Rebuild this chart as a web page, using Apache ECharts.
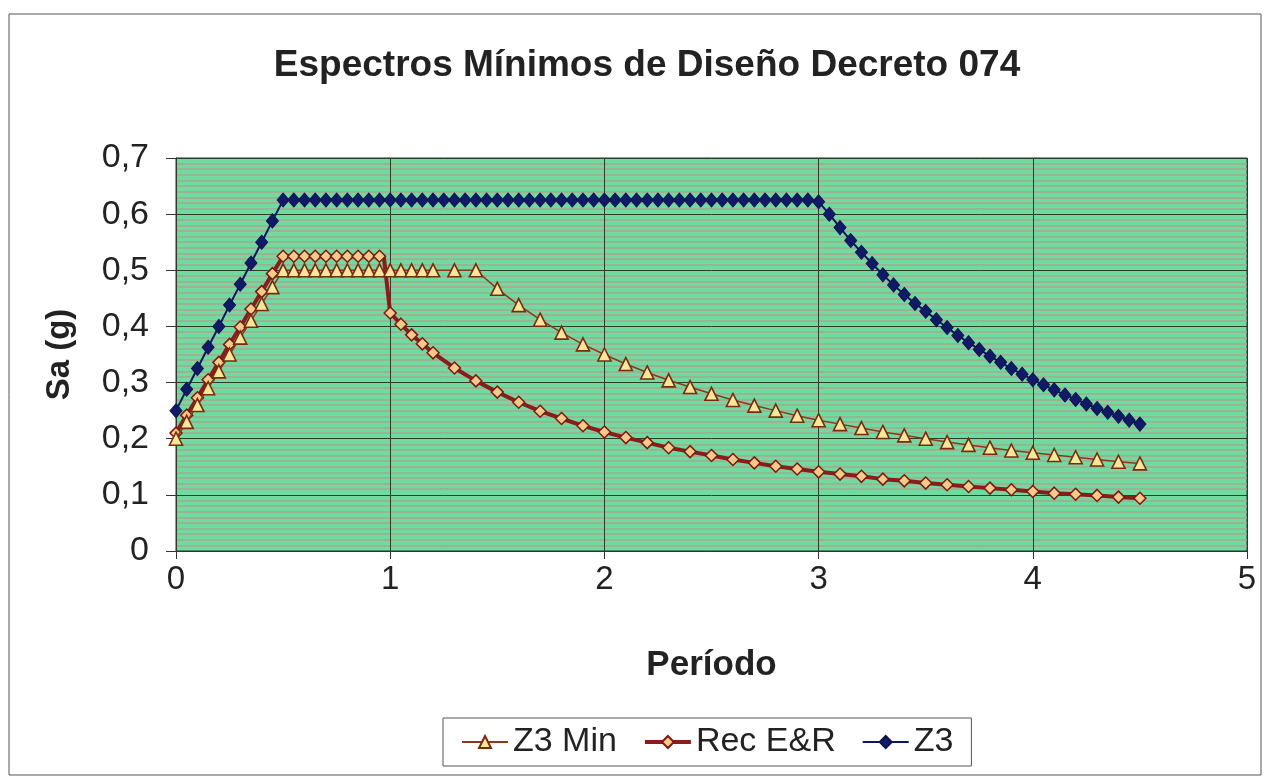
<!DOCTYPE html>
<html>
<head>
<meta charset="utf-8">
<title>Espectros Mínimos de Diseño Decreto 074</title>
<script src="https://cdn.jsdelivr.net/npm/echarts@6/dist/echarts.min.js"></script>
<style>
  html, body { margin: 0; padding: 0; background: #fff; }
  #chart { width: 1268px; height: 781px; }
</style>
</head>
<body>
<div id="chart"></div>
<script>
// Periodo (s) y Sa (g)
var z3MinT = [0, 0.05, 0.1, 0.15, 0.2, 0.25, 0.3, 0.35, 0.4, 0.45, 0.5,
  0.55, 0.6, 0.65, 0.7, 0.75, 0.8, 0.85, 0.9, 0.95, 1.0, 1.05, 1.1, 1.15, 1.2,
  1.3, 1.4, 1.5, 1.6, 1.7, 1.8, 1.9, 2.0, 2.1, 2.2, 2.3, 2.4, 2.5, 2.6, 2.7, 2.8, 2.9,
  3.0, 3.1, 3.2, 3.3, 3.4, 3.5, 3.6, 3.7, 3.8, 3.9, 4.0, 4.1, 4.2, 4.3, 4.4, 4.5];
var z3MinSa = [0.2, 0.23, 0.26, 0.29, 0.32, 0.35, 0.38, 0.41, 0.44, 0.47, 0.5,
  0.5, 0.5, 0.5, 0.5, 0.5, 0.5, 0.5, 0.5, 0.5, 0.5, 0.5, 0.5, 0.5, 0.5,
  0.5, 0.5, 0.467, 0.438, 0.412, 0.389, 0.368, 0.35, 0.333, 0.318, 0.304, 0.292, 0.28, 0.269, 0.259, 0.25, 0.241,
  0.233, 0.226, 0.219, 0.212, 0.206, 0.2, 0.194, 0.189, 0.184, 0.179, 0.175, 0.171, 0.167, 0.163, 0.159, 0.156];

var recT = [0, 0.05, 0.1, 0.15, 0.2, 0.25, 0.3, 0.35, 0.4, 0.45, 0.5,
  0.55, 0.6, 0.65, 0.7, 0.75, 0.8, 0.85, 0.9, 0.95, 0.97,
  1.0, 1.05, 1.1, 1.15, 1.2, 1.3, 1.4, 1.5, 1.6, 1.7, 1.8, 1.9, 2.0, 2.1, 2.2, 2.3, 2.4, 2.5, 2.6, 2.7, 2.8, 2.9,
  3.0, 3.1, 3.2, 3.3, 3.4, 3.5, 3.6, 3.7, 3.8, 3.9, 4.0, 4.1, 4.2, 4.3, 4.4, 4.5];
var recSa = [0.21, 0.242, 0.273, 0.305, 0.336, 0.368, 0.399, 0.431, 0.462, 0.494, 0.525,
  0.525, 0.525, 0.525, 0.525, 0.525, 0.525, 0.525, 0.525, 0.525, 0.525,
  0.424, 0.404, 0.385, 0.369, 0.353, 0.326, 0.303, 0.283, 0.265, 0.249, 0.236, 0.223, 0.212, 0.202, 0.193, 0.184, 0.177, 0.17, 0.163, 0.157, 0.151, 0.146,
  0.141, 0.137, 0.133, 0.128, 0.125, 0.121, 0.118, 0.115, 0.112, 0.109, 0.106, 0.103, 0.101, 0.099, 0.096, 0.094];

var z3T = [0, 0.05, 0.1, 0.15, 0.2, 0.25, 0.3, 0.35, 0.4, 0.45, 0.5,
  0.55, 0.6, 0.65, 0.7, 0.75, 0.8, 0.85, 0.9, 0.95, 1.0,
  1.05, 1.1, 1.15, 1.2, 1.25, 1.3, 1.35, 1.4, 1.45, 1.5,
  1.55, 1.6, 1.65, 1.7, 1.75, 1.8, 1.85, 1.9, 1.95, 2.0,
  2.05, 2.1, 2.15, 2.2, 2.25, 2.3, 2.35, 2.4, 2.45, 2.5,
  2.55, 2.6, 2.65, 2.7, 2.75, 2.8, 2.85, 2.9, 2.95, 3.0,
  3.05, 3.1, 3.15, 3.2, 3.25, 3.3, 3.35, 3.4, 3.45, 3.5,
  3.55, 3.6, 3.65, 3.7, 3.75, 3.8, 3.85, 3.9, 3.95, 4.0,
  4.05, 4.1, 4.15, 4.2, 4.25, 4.3, 4.35, 4.4, 4.45, 4.5];
var z3Sa = [0.25, 0.288, 0.325, 0.363, 0.4, 0.438, 0.475, 0.513, 0.55, 0.588, 0.625,
  0.625, 0.625, 0.625, 0.625, 0.625, 0.625, 0.625, 0.625, 0.625, 0.625,
  0.625, 0.625, 0.625, 0.625, 0.625, 0.625, 0.625, 0.625, 0.625, 0.625,
  0.625, 0.625, 0.625, 0.625, 0.625, 0.625, 0.625, 0.625, 0.625, 0.625,
  0.625, 0.625, 0.625, 0.625, 0.625, 0.625, 0.625, 0.625, 0.625, 0.625,
  0.625, 0.625, 0.625, 0.625, 0.625, 0.625, 0.625, 0.625, 0.625, 0.622,
  0.6, 0.576, 0.553, 0.532, 0.512, 0.492, 0.474, 0.457, 0.441, 0.427,
  0.412, 0.398, 0.384, 0.371, 0.359, 0.347, 0.336, 0.325, 0.315, 0.305,
  0.296, 0.287, 0.278, 0.27, 0.262, 0.254, 0.247, 0.24, 0.233, 0.226];

var xTicks = [0, 1, 2, 3, 4, 5];
var yTicks = [0, 0.1, 0.2, 0.3, 0.4, 0.5, 0.6, 0.7];

var fontFam = '"Liberation Sans", Arial, sans-serif';

function pairs(ts, vs, hide) {
  var out = [];
  for (var i = 0; i < ts.length; i++) {
    var item = { value: [ts[i], vs[i]] };
    // punto de quiebre sin marcador
    if (hide && hide.indexOf(ts[i]) >= 0) item.symbol = 'none';
    out.push(item);
  }
  return out;
}

var myChart = echarts.init(document.getElementById('chart'), null, { renderer: 'canvas' });

var option = {
  backgroundColor: '#ffffff',
  animation: false,
  textStyle: { fontFamily: fontFam },
  graphic: [{
    type: 'rect',
    shape: { x: 9, y: 14, width: 1252, height: 761 },
    style: { fill: 'none', stroke: '#555', lineWidth: 1 },
    z: -10
  }],
  title: {
    text: 'Espectros Mínimos de Diseño Decreto 074',
    left: 642,
    textAlign: 'center',
    top: 42,
    textStyle: { fontFamily: fontFam, fontSize: 37, fontWeight: 'bold', color: '#222' }
  },
  legend: {
    left: 443,
    top: 718,
    padding: [7, 18, 7, 18],
    itemGap: 26,
    itemWidth: 46,
    itemHeight: 15,
    borderColor: '#555',
    borderWidth: 1,
    textStyle: { fontFamily: fontFam, fontSize: 34, color: '#222' },
    data: [
      { name: 'Z3 Min' },
      { name: 'Rec E&R', lineStyle: { width: 4 } },
      { name: 'Z3' }
    ]
  },
  grid: {
    left: 176,
    right: 21,
    top: 158,
    bottom: 230,
    show: true,
    backgroundColor: '#70da9f',
    borderColor: '#333',
    borderWidth: 1
  },
  xAxis: {
    type: 'value',
    min: xTicks[0],
    max: xTicks[xTicks.length - 1],
    interval: 1,
    name: 'Período',
    nameLocation: 'middle',
    nameGap: 97,
    nameTextStyle: { fontFamily: fontFam, fontSize: 35, fontWeight: 'bold', color: '#222' },
    axisLine: { show: true, lineStyle: { color: '#333', width: 1 } },
    axisTick: { show: true, length: 8, lineStyle: { color: '#333' } },
    axisLabel: { fontFamily: fontFam, fontSize: 33, color: '#222', margin: 12 },
    splitLine: { show: true, lineStyle: { color: '#2f3a30', width: 1 } }
  },
  yAxis: {
    type: 'value',
    min: yTicks[0],
    max: yTicks[yTicks.length - 1],
    interval: 0.1,
    name: 'Sa (g)',
    nameLocation: 'middle',
    nameGap: 100,
    nameRotate: 90,
    nameTextStyle: { fontFamily: fontFam, fontSize: 33, fontWeight: 'bold', color: '#222' },
    axisLine: { show: true, lineStyle: { color: '#333', width: 1 } },
    axisTick: { show: true, length: 10, lineStyle: { color: '#333' } },
    axisLabel: {
      fontFamily: fontFam, fontSize: 34, color: '#222', margin: 27,
      formatter: function (v) { return String(Math.round(v * 10) / 10).replace('.', ','); }
    },
    splitLine: { show: true, lineStyle: { color: '#2f3a30', width: 1 } },
    minorTick: { show: false, splitNumber: 10 },
    minorSplitLine: { show: true, lineStyle: { color: '#a8a690', width: 1.6 } }
  },
  series: [
    {
      name: 'Z3 Min',
      type: 'line',
      z: 3,
      data: pairs(z3MinT, z3MinSa),
      symbol: 'triangle',
      symbolSize: 13,
      showAllSymbol: true,
      lineStyle: { color: '#8a3a1a', width: 1.5 },
      itemStyle: { color: '#fae79a', borderColor: '#7a2a10', borderWidth: 1.6 }
    },
    {
      name: 'Rec E&R',
      type: 'line',
      z: 2,
      data: pairs(recT, recSa, [0.97]),
      symbol: 'diamond',
      symbolSize: 12,
      showAllSymbol: true,
      lineStyle: { color: '#8b1c1c', width: 4 },
      itemStyle: { color: '#f7c98a', borderColor: '#7a1a10', borderWidth: 1.5 }
    },
    {
      name: 'Z3',
      type: 'line',
      z: 4,
      data: pairs(z3T, z3Sa),
      symbol: 'diamond',
      symbolSize: [12, 14],
      showAllSymbol: true,
      lineStyle: { color: '#0c1760', width: 2 },
      itemStyle: { color: '#101a66', borderColor: '#0c1450', borderWidth: 1 }
    }
  ]
};

myChart.setOption(option);
</script>
</body>
</html>
